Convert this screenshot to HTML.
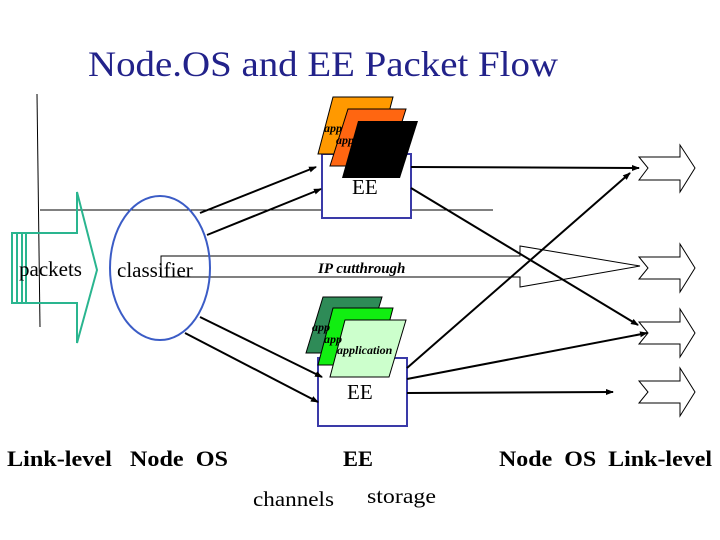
<!DOCTYPE html>
<html><head><meta charset="utf-8"><style>html,body{margin:0;padding:0;background:#fff}svg{display:block}</style></head>
<body>
<svg width="720" height="540" viewBox="0 0 720 540" xmlns="http://www.w3.org/2000/svg" font-family="Liberation Serif, serif">
<defs>
<marker id="ah" markerWidth="8" markerHeight="8" refX="7" refY="4" orient="auto" markerUnits="userSpaceOnUse"><path d="M0,1 L8,4 L0,7 Z" fill="#000"/></marker>
</defs>
<text x="88" y="76" font-size="36" fill="#22228a" textLength="470" lengthAdjust="spacingAndGlyphs">Node.OS and EE Packet Flow</text>

<line x1="37" y1="94" x2="40" y2="327" stroke="#000" stroke-width="1"/>
<line x1="40" y1="210" x2="493" y2="210" stroke="#000" stroke-width="1"/>

<!-- packets arrow -->
<polygon points="12,233 77,233 77,192 97,270 77,343 77,303 12,303" fill="none" stroke="#2ab58f" stroke-width="2"/>
<line x1="17" y1="233" x2="17" y2="303" stroke="#2ab58f" stroke-width="2"/>
<line x1="22" y1="233" x2="22" y2="303" stroke="#2ab58f" stroke-width="2"/>
<line x1="26" y1="233" x2="26" y2="303" stroke="#2ab58f" stroke-width="2"/>
<text x="19" y="276" font-size="21">packets</text>

<!-- IP cutthrough band -->
<polyline points="161,277 161,256 520,256 520,246 640,266 520,287 520,277 161,277" fill="none" stroke="#000" stroke-width="1"/>
<text x="318" y="273" font-size="15" font-style="italic" font-weight="bold">IP cutthrough</text>

<ellipse cx="160" cy="268" rx="50" ry="72" fill="none" stroke="#3b5cc6" stroke-width="2"/>
<text x="117" y="277" font-size="21">classifier</text>

<!-- top EE -->
<rect x="322" y="154" width="89" height="64" fill="#fff" stroke="#3a3aa8" stroke-width="2"/>
<polygon points="318,154 333,97 393,97 378,154" fill="#ff9900" stroke="#000" stroke-width="1"/>
<polygon points="330,166 348,109 406,109 388,166" fill="#ff6611" stroke="#000" stroke-width="1"/>
<polygon points="342,178 358,121 418,121 400,178" fill="#000"/>
<text x="324" y="132" font-size="12" font-style="italic" font-weight="bold">app</text>
<text x="336" y="144" font-size="12" font-style="italic" font-weight="bold">app</text>
<text x="352" y="194" font-size="21">EE</text>

<!-- bottom EE -->
<rect x="318" y="358" width="89" height="68" fill="#fff" stroke="#3a3aa8" stroke-width="2"/>
<polygon points="306,353 323,297 382,297 365,353" fill="#2e8b57" stroke="#000" stroke-width="1"/>
<polygon points="318,365 333,308 393,308 378,365" fill="#11ee11" stroke="#000" stroke-width="1"/>
<polygon points="330,377 345,320 406,320 389,377" fill="#ccffcc" stroke="#000" stroke-width="1"/>
<text x="312" y="331" font-size="12" font-style="italic" font-weight="bold">app</text>
<text x="324" y="343" font-size="12" font-style="italic" font-weight="bold">app</text>
<text x="337" y="354" font-size="12" font-style="italic" font-weight="bold">application</text>
<text x="347" y="399" font-size="21">EE</text>

<!-- classifier arrows -->
<g stroke="#000" stroke-width="2" marker-end="url(#ah)">
<line x1="200" y1="213" x2="316" y2="167"/>
<line x1="207" y1="235" x2="321" y2="189"/>
<line x1="200" y1="317" x2="322" y2="377"/>
<line x1="185" y1="333" x2="318" y2="402"/>
<line x1="411" y1="167" x2="639" y2="168"/>
<line x1="411" y1="188" x2="638" y2="325"/>
<line x1="407" y1="368" x2="630" y2="173"/>
<line x1="407" y1="379" x2="647" y2="333"/>
<line x1="407" y1="393" x2="613" y2="392"/>
</g>

<!-- right arrows -->
<g fill="#fff" stroke="#000" stroke-width="1">
<polygon points="639,157 680,157 680,145 695,168 680,192 680,180 639,180 648,168"/>
<polygon points="639,257 680,257 680,244 695,268 680,292 680,279 639,279 648,268"/>
<polygon points="639,322 680,322 680,309 695,333 680,357 680,344 639,344 648,333"/>
<polygon points="639,381 680,381 680,368 695,392 680,416 680,403 639,403 648,392"/>
</g>

<g font-weight="bold" font-size="22">
<text x="7" y="466" textLength="221" lengthAdjust="spacingAndGlyphs">Link-level&#160;&#160; Node&#160; OS</text>
<text x="343" y="466" textLength="30" lengthAdjust="spacingAndGlyphs">EE</text>
<text x="499" y="466" textLength="213" lengthAdjust="spacingAndGlyphs">Node&#160; OS&#160; Link-level</text>
</g>
<text x="253" y="506" font-size="21" textLength="81" lengthAdjust="spacingAndGlyphs">channels</text>
<text x="367" y="503" font-size="21" textLength="69" lengthAdjust="spacingAndGlyphs">storage</text>
</svg>
</body></html>
